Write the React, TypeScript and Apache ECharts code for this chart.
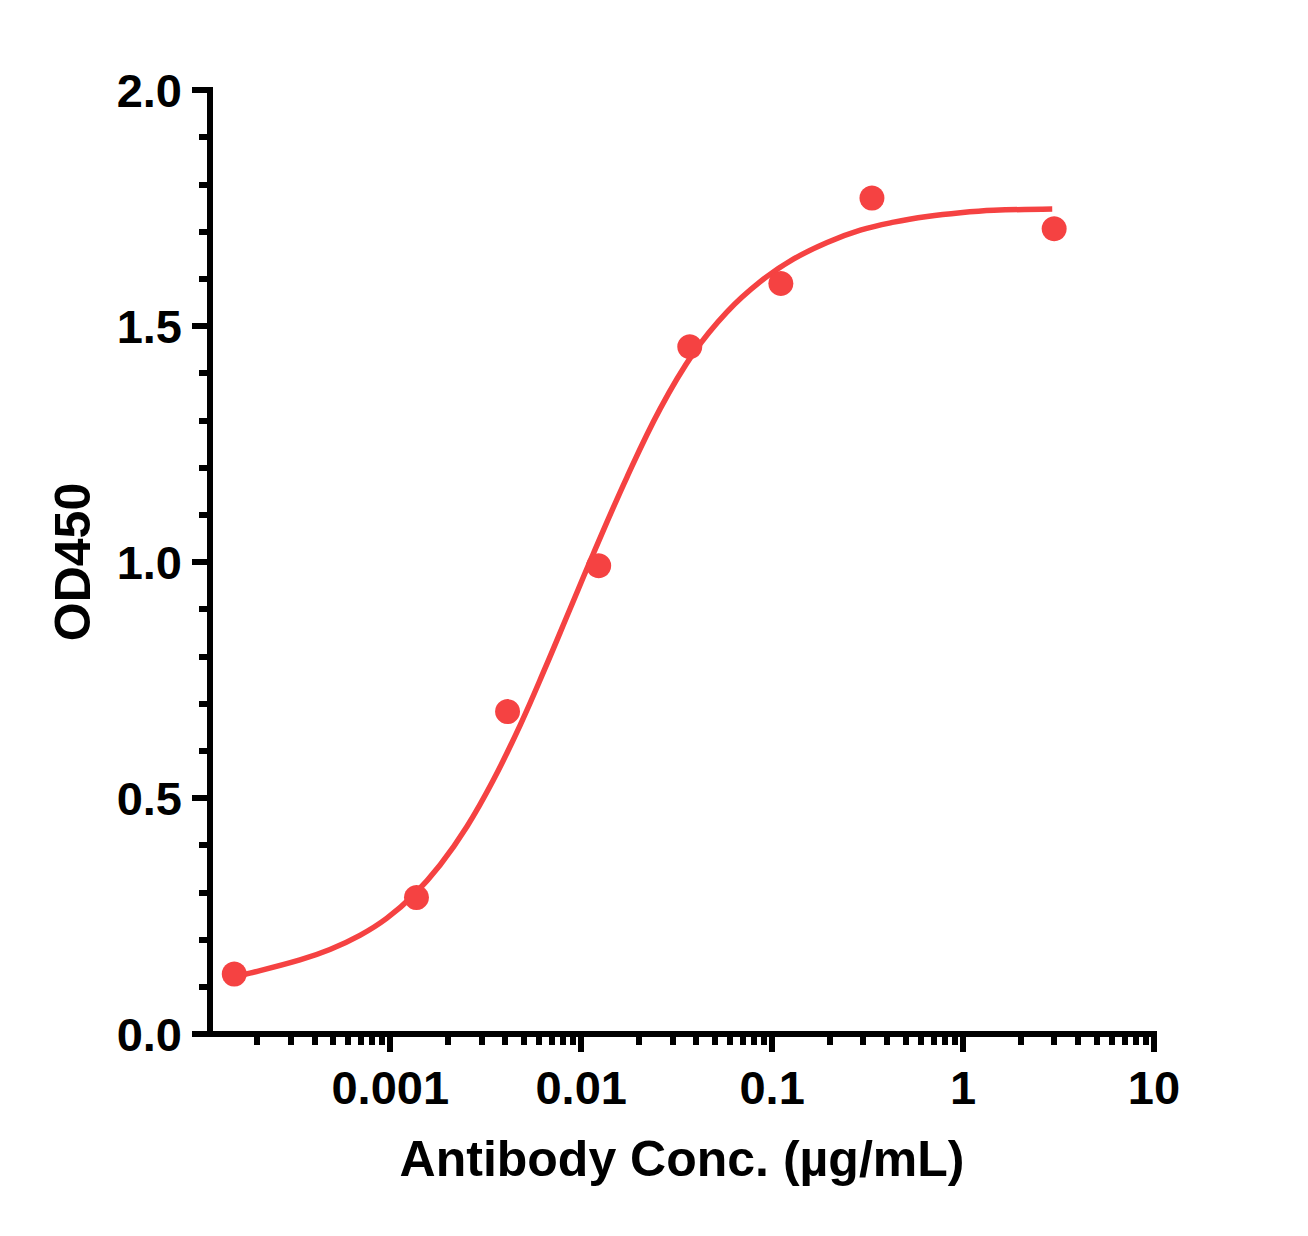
import { useEffect, useRef } from 'react';
import * as echarts from 'echarts';

// 抗体浓度 (µg/mL) 与 OD450 实测点
const concentrations = [0.0001524, 0.001372, 0.004115, 0.01235, 0.03704, 0.1111, 0.3333, 3];
const odValues = [0.127, 0.289, 0.683, 0.992, 1.456, 1.59, 1.771, 1.706];

// 拟合曲线（从图上读出的 log10(浓度) 与 OD450）
const curveLogConc = [
  -3.817, -3.735, -3.473, -3.316, -3.159, -3.019, -2.879, -2.739, -2.599, -2.46, -2.32, -2.19, -2.058,
  -1.936, -1.76, -1.586, -1.411, -1.236, -1.062, -0.887, -0.712, -0.538, -0.363, -0.188, -0.014,
  0.161, 0.467,
];
const curveOd = [
  0.122, 0.129, 0.157, 0.179, 0.209, 0.245, 0.294, 0.358, 0.439, 0.538, 0.654, 0.774, 0.901, 1.018,
  1.18, 1.325, 1.443, 1.53, 1.594, 1.642, 1.677, 1.703, 1.72, 1.732, 1.74, 1.745, 1.748,
];

// x 轴刻度
const majorDecades = [-3, -2, -1, 0, 1];
const majorTickLabels = ['0.001', '0.01', '0.1', '1', '10'];
const minorDecades = [-4, -3, -2, -1, 0];
const minorSteps = [2, 3, 4, 5, 6, 7, 8, 9];

const X_MIN = -3.944;
const X_MAX = 1;
const RED = '#F54242';
const FONT = 'Liberation Sans, Arial, sans-serif';

const App = () => {
  const chartDom = useRef<HTMLDivElement>(null);

  useEffect(() => {
    const chart = echarts.init(chartDom.current, null, { renderer: 'svg' });

    const minorTicks: number[] = [];
    minorDecades.forEach((d) => {
      minorSteps.forEach((k) => {
        const v = Math.log10(k) + d;
        if (v > X_MIN && v < X_MAX) minorTicks.push(v);
      });
    });

    const gridBox = { left: 210, right: 154, top: 90, bottom: 202 };
    const axisLineStyle = { color: '#000', width: 6, cap: 'square' as const };

    const option = {
      animation: false,
      backgroundColor: '#fff',
      grid: [
        { ...gridBox, containLabel: false },
        { ...gridBox, containLabel: false },
      ],
      xAxis: [
        {
          type: 'value',
          gridIndex: 0,
          min: X_MIN,
          max: X_MAX,
          name: 'Antibody Conc. (µg/mL)',
          nameLocation: 'middle',
          nameGap: 100,
          nameTextStyle: { fontFamily: FONT, fontWeight: 'bold', fontSize: 50, color: '#000' },
          axisLine: { show: true, onZero: false, lineStyle: axisLineStyle },
          axisTick: { show: true, customValues: majorDecades, length: 18, lineStyle: { color: '#000', width: 6 } },
          axisLabel: {
            customValues: majorDecades,
            margin: 30,
            fontFamily: FONT,
            fontWeight: 'bold',
            fontSize: 47,
            color: '#000',
            formatter: (v: number) => majorTickLabels[majorDecades.indexOf(Math.round(v))] ?? '',
          },
          splitLine: { show: false },
        },
        {
          type: 'value',
          gridIndex: 1,
          min: X_MIN,
          max: X_MAX,
          axisLine: { show: false, onZero: false },
          axisTick: { show: true, customValues: minorTicks, length: 11, lineStyle: { color: '#000', width: 6 } },
          axisLabel: { show: false },
          splitLine: { show: false },
        },
      ],
      yAxis: [
        {
          type: 'value',
          gridIndex: 0,
          min: 0,
          max: 2,
          interval: 0.5,
          name: 'OD450',
          nameLocation: 'middle',
          nameGap: 112,
          nameTextStyle: { fontFamily: FONT, fontWeight: 'bold', fontSize: 50, color: '#000' },
          axisLine: { show: true, onZero: false, lineStyle: axisLineStyle },
          axisTick: { show: true, length: 18, lineStyle: { color: '#000', width: 6 } },
          minorTick: { show: true, splitNumber: 5, length: 11, lineStyle: { color: '#000', width: 6 } },
          axisLabel: {
            margin: 28,
            fontFamily: FONT,
            fontWeight: 'bold',
            fontSize: 47,
            color: '#000',
            formatter: (v: number) => v.toFixed(1),
          },
          splitLine: { show: false },
        },
        {
          type: 'value',
          gridIndex: 1,
          min: 0,
          max: 2,
          show: false,
          axisLine: { onZero: false },
        },
      ],
      series: [
        {
          type: 'line',
          xAxisIndex: 0,
          yAxisIndex: 0,
          data: curveLogConc.map((x, i) => [x, curveOd[i]]),
          smooth: 0.4,
          showSymbol: false,
          lineStyle: { color: RED, width: 5.5 },
          emphasis: { disabled: true },
          z: 2,
        },
        {
          type: 'scatter',
          xAxisIndex: 0,
          yAxisIndex: 0,
          data: concentrations.map((c, i) => [Math.log10(c), odValues[i]]),
          symbol: 'circle',
          symbolSize: 25,
          itemStyle: { color: RED, opacity: 1 },
          emphasis: { disabled: true },
          z: 3,
        },
      ],
    };

    chart.setOption(option);

    return () => {
      chart.dispose();
    };
  }, []);

  return (
    <div
      ref={chartDom}
      style={{ position: 'fixed', left: 0, top: 0, width: 1308, height: 1236, background: '#fff' }}
    />
  );
};

export default App;
